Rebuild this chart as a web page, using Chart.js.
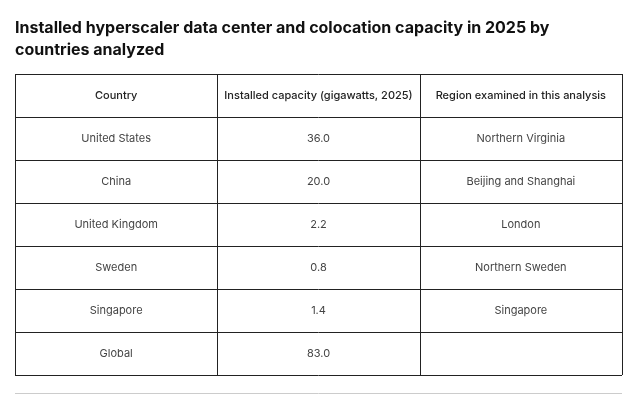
<!DOCTYPE html>
<html>
<head>
<meta charset="utf-8">
<script src="https://cdn.jsdelivr.net/npm/chart.js@4"></script>
<style>
  html, body { margin: 0; padding: 0; background: #fff; }
  #wrap { width: 643px; height: 410px; }
</style>
</head>
<body>
<div id="wrap"><canvas id="tableChart" width="643" height="410"></canvas></div>
<script>
const titleLines = ['Installed hyperscaler data center and colocation capacity in 2025 by', 'countries analyzed'];
const headers = ['Country', 'Installed capacity (gigawatts, 2025)', 'Region examined in this analysis'];
const countries = ['United States', 'China', 'United Kingdom', 'Sweden', 'Singapore', 'Global'];
const capacity = [36.0, 20.0, 2.2, 0.8, 1.4, 83.0];
const regions = ['Northern Virginia', 'Beijing and Shanghai', 'London', 'Northern Sweden', 'Singapore', ''];

// draws the grid and cell text using the chart's scales
const tablePlugin = {
    id: 'tablePlugin',
    afterDraw(chart) {
        const ctx = chart.ctx;
        const x = chart.scales.x, y = chart.scales.y;
        const nRows = countries.length + 1;
        ctx.save();
        // title
        ctx.fillStyle = '#111';
        ctx.font = 'bold 16px Inter, sans-serif';
        ctx.textBaseline = 'middle';
        ctx.textAlign = 'left';
        titleLines.forEach((t, i) => ctx.fillText(t, 15, 28 + i * 22));
        // grid
        ctx.strokeStyle = '#222';
        ctx.lineWidth = 1;
        for (let c = 0; c <= headers.length; c++) {
            const px = Math.round(x.getPixelForValue(c)) + 0.5;
            ctx.beginPath();
            ctx.moveTo(px, y.getPixelForValue(0));
            ctx.lineTo(px, y.getPixelForValue(nRows));
            ctx.stroke();
        }
        for (let r = 0; r <= nRows; r++) {
            const py = Math.round(y.getPixelForValue(r)) + 0.5;
            ctx.beginPath();
            ctx.moveTo(x.getPixelForValue(0), py);
            ctx.lineTo(x.getPixelForValue(headers.length), py);
            ctx.stroke();
        }
        // bottom rule
        ctx.strokeStyle = '#ccc';
        ctx.beginPath();
        ctx.moveTo(15, 393.5);
        ctx.lineTo(622, 393.5);
        ctx.stroke();
        // text
        ctx.textAlign = 'center';
        ctx.fillStyle = '#222';
        ctx.font = '500 11px Inter, sans-serif';
        headers.forEach((h, c) => ctx.fillText(h, x.getPixelForValue(c + 0.5), y.getPixelForValue(0.5)));
        ctx.fillStyle = '#444';
        ctx.font = '11px Inter, sans-serif';
        countries.forEach((name, r) => {
            const py = y.getPixelForValue(r + 1.5);
            ctx.fillText(name, x.getPixelForValue(0.5), py);
            ctx.fillText(capacity[r].toFixed(1), x.getPixelForValue(1.5), py);
            ctx.fillText(regions[r], x.getPixelForValue(2.5), py);
        });
        ctx.restore();
    }
};

new Chart(document.getElementById('tableChart'), {
    type: 'scatter',
    data: { datasets: [{ data: [] }] },
    options: {
        responsive: false,
        animation: false,
        layout: { padding: { left: 15, right: 21, top: 74, bottom: 35 } },
        plugins: { legend: { display: false }, tooltip: { enabled: false } },
        scales: {
            x: { display: false, min: 0, max: 3 },
            y: { display: false, min: 0, max: 7, reverse: true }
        }
    },
    plugins: [tablePlugin]
});
</script>
</body>
</html>
